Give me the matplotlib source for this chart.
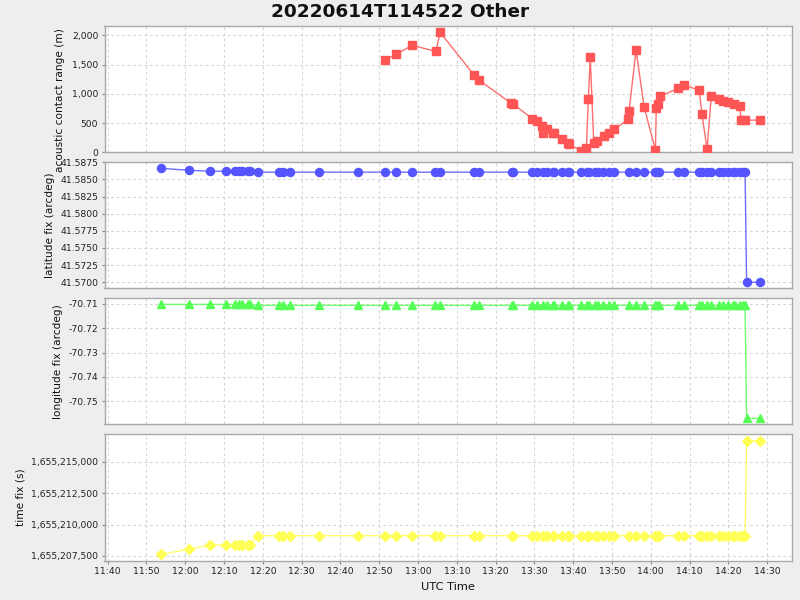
import matplotlib
matplotlib.use("Agg")
import matplotlib.pyplot as plt
import matplotlib.dates as mdates
import matplotlib.ticker as mticker
import pandas as pd

DAY = "2022-06-14 "

# ---- acoustic contact range ----
range_times = ["12:51:30", "12:54:18", "12:58:30", "13:04:36", "13:05:42", "13:14:30",
               "13:15:48", "13:24:00", "13:24:30", "13:29:24", "13:30:42", "13:32:00",
               "13:32:18", "13:33:18", "13:34:42", "13:35:06", "13:37:12", "13:38:42",
               "13:39:00", "13:42:00", "13:43:24", "13:43:54", "13:44:24", "13:45:18",
               "13:46:12", "13:47:54", "13:49:18", "13:50:36", "13:54:12", "13:54:24",
               "13:56:12", "13:58:18", "14:01:12", "14:01:24", "14:01:54", "14:02:24",
               "14:07:06", "14:08:36", "14:12:30", "14:13:12", "14:14:30", "14:15:36",
               "14:17:30", "14:18:36", "14:19:54", "14:21:24", "14:23:00", "14:23:12",
               "14:24:24", "14:28:12"]
range_m = [1573, 1675, 1829, 1726, 2051, 1316,
           1231, 838, 826, 578, 533, 458,
           328, 406, 338, 325, 222, 154,
           142, 20, 68, 908, 1624, 156,
           193, 273, 338, 393, 566, 701,
           1744, 769, 41, 752, 826, 957,
           1094, 1150, 1060, 652, 53, 957,
           908, 885, 855, 823, 786, 550,
           550, 550]

# ---- fixes ----
fix_times = ["11:53:48", "12:01:00", "12:06:24", "12:10:36", "12:12:54", "12:13:48",
             "12:14:42", "12:16:18", "12:16:48", "12:18:42", "12:24:12", "12:25:12",
             "12:27:06", "12:34:30", "12:44:36", "12:51:30", "12:54:24", "12:58:30",
             "13:04:18", "13:05:36", "13:14:30", "13:15:42", "13:24:12", "13:24:30",
             "13:29:24", "13:30:36", "13:32:06", "13:33:12", "13:34:42", "13:35:06",
             "13:37:12", "13:38:36", "13:38:54", "13:42:06", "13:43:30", "13:44:00",
             "13:45:36", "13:46:24", "13:47:48", "13:49:06", "13:50:36", "13:54:18",
             "13:56:12", "13:58:18", "14:01:06", "14:01:36", "14:02:12", "14:07:00",
             "14:08:30", "14:12:24", "14:13:12", "14:14:24", "14:15:36", "14:17:36",
             "14:18:42", "14:19:54", "14:21:12", "14:21:36", "14:23:00", "14:23:48",
             "14:24:18", "14:24:42", "14:28:12"]

latitude = [41.58662, 41.58633, 41.58620, 41.58620, 41.58620, 41.58620,
            41.58620, 41.58620, 41.58620, 41.58606, 41.58606, 41.58606,
            41.58606, 41.58606, 41.58606, 41.58606, 41.58606, 41.58606,
            41.58606, 41.58606, 41.58606, 41.58606, 41.58606, 41.58606,
            41.58606, 41.58606, 41.58606, 41.58606, 41.58606, 41.58606,
            41.58606, 41.58606, 41.58606, 41.58606, 41.58606, 41.58606,
            41.58606, 41.58606, 41.58606, 41.58606, 41.58606, 41.58606,
            41.58606, 41.58606, 41.58606, 41.58606, 41.58606, 41.58606,
            41.58606, 41.58606, 41.58606, 41.58606, 41.58606, 41.58606,
            41.58606, 41.58606, 41.58606, 41.58606, 41.58606, 41.58606,
            41.58606, 41.57000, 41.57000]

longitude = [-70.7103, -70.7103, -70.7103, -70.7103, -70.7103, -70.7103,
             -70.7103, -70.7103, -70.7103, -70.7107, -70.7107, -70.7107,
             -70.7107, -70.7107, -70.7107, -70.7107, -70.7107, -70.7107,
             -70.7107, -70.7107, -70.7107, -70.7107, -70.7107, -70.7107,
             -70.7107, -70.7107, -70.7107, -70.7107, -70.7107, -70.7107,
             -70.7107, -70.7107, -70.7107, -70.7107, -70.7107, -70.7107,
             -70.7107, -70.7107, -70.7107, -70.7107, -70.7107, -70.7107,
             -70.7107, -70.7107, -70.7107, -70.7107, -70.7107, -70.7107,
             -70.7107, -70.7107, -70.7107, -70.7107, -70.7107, -70.7107,
             -70.7107, -70.7107, -70.7107, -70.7107, -70.7107, -70.7107,
             -70.7107, -70.7570, -70.7570]

time_fix = [1655207630, 1655208040, 1655208370, 1655208370, 1655208370, 1655208370,
            1655208370, 1655208370, 1655208370, 1655209115, 1655209115, 1655209115,
            1655209115, 1655209115, 1655209115, 1655209115, 1655209115, 1655209115,
            1655209115, 1655209115, 1655209115, 1655209115, 1655209115, 1655209115,
            1655209115, 1655209115, 1655209115, 1655209115, 1655209115, 1655209115,
            1655209115, 1655209115, 1655209115, 1655209115, 1655209115, 1655209115,
            1655209115, 1655209115, 1655209115, 1655209115, 1655209115, 1655209115,
            1655209115, 1655209115, 1655209115, 1655209115, 1655209115, 1655209115,
            1655209115, 1655209115, 1655209115, 1655209115, 1655209115, 1655209115,
            1655209115, 1655209115, 1655209115, 1655209115, 1655209115, 1655209115,
            1655209115, 1655216670, 1655216670]

title = "20220614T114522 Other"
x_label = "UTC Time"
y_labels = ["acoustic contact range (m)", "latitude fix (arcdeg)",
            "longitude fix (arcdeg)", "time fix (s)"]

rt = pd.to_datetime([DAY + t for t in range_times])
ft = pd.to_datetime([DAY + t for t in fix_times])

BG = "#EEEEEE"
fig = plt.figure(figsize=(8, 6), dpi=100, facecolor=BG)

L, W = 104.5 / 800, 687.5 / 800
tops = [26, 162.3, 298.3, 434.3]
bots = [152.3, 288.3, 424.3, 561]
axes = []
for t, b in zip(tops, bots):
    ax = fig.add_axes([L, 1 - b / 600, W, (b - t) / 600])
    axes.append(ax)

series = [
    (rt, range_m, "#FF5555", "s", 5.2),
    (ft, latitude, "#5555FF", "o", 5.8),
    (ft, longitude, "#55FF55", "^", 6.2),
    (ft, time_fix, "#FFFF55", "D", 5.0),
]
for ax, (x, y, c, m, ms) in zip(axes, series):
    ax.plot(x, y, color=c, lw=1.0, alpha=0.85, zorder=2)
    ax.plot(x, y, ls="none", marker=m, ms=ms, color=c, mec=c, zorder=3, clip_on=True)

xmin = pd.Timestamp(DAY + "11:39:11")
xmax = pd.Timestamp(DAY + "14:36:24")
for i, ax in enumerate(axes):
    ax.set_facecolor("white")
    ax.set_xlim(xmin, xmax)
    ax.xaxis.set_major_locator(mdates.MinuteLocator(byminute=range(0, 60, 10)))
    ax.xaxis.set_major_formatter(mdates.DateFormatter("%H:%M"))
    ax.grid(True, color="#D6D6D6", ls=(0, (2.5, 2.5)), lw=0.8)
    ax.set_axisbelow(True)
    for s in ax.spines.values():
        s.set_color("#A8A8A8")
        s.set_linewidth(1.0)
    ax.tick_params(axis="both", labelsize=6.7, colors="#888888", labelcolor="#222222",
                   length=2.5, width=0.8, pad=2)
    ax.set_ylabel(y_labels[i], fontsize=7.6, color="#111111", labelpad=4)
    if i < 3:
        ax.tick_params(axis="x", labelbottom=False, length=0)

# reference places the long top label lower, spilling over the panel below
axes[0].yaxis.set_label_coords(-0.0575, 0.41)

axes[0].set_ylim(0, 2160)
axes[0].yaxis.set_major_locator(mticker.MultipleLocator(500))
axes[0].yaxis.set_major_formatter(mticker.FuncFormatter(lambda v, p: f"{v:,.0f}"))

axes[1].set_ylim(41.56912, 41.5875)
axes[1].yaxis.set_major_locator(mticker.MultipleLocator(0.0025))
axes[1].yaxis.set_major_formatter(mticker.FuncFormatter(lambda v, p: f"{v:.4f}"))

axes[2].set_ylim(-70.7594, -70.7078)
axes[2].yaxis.set_major_locator(mticker.MultipleLocator(0.01))
axes[2].yaxis.set_major_formatter(mticker.FuncFormatter(lambda v, p: f"{v:.2f}"))

axes[3].set_ylim(1655207102, 1655217178)
axes[3].yaxis.set_major_locator(mticker.MultipleLocator(2500))
axes[3].yaxis.set_major_formatter(mticker.FuncFormatter(lambda v, p: f"{v:,.0f}"))
axes[3].set_xlabel(x_label, fontsize=8.2, color="#111111", labelpad=4)

fig.text(0.5, 1 - 12 / 600, title, ha="center", va="center", fontsize=13.3,
         fontweight="bold", color="#111111")

fig.savefig("out.png", dpi=100, facecolor=BG)
